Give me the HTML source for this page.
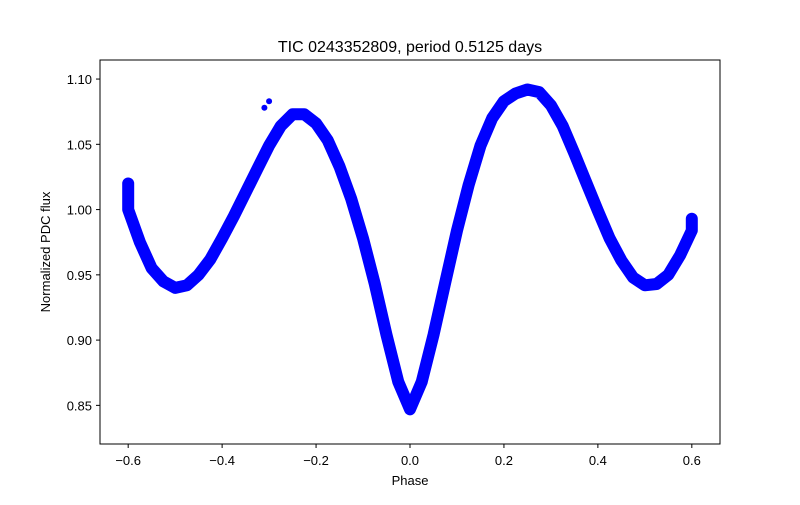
<!DOCTYPE html>
<html><head><meta charset="utf-8"><style>
body{margin:0;background:#fff;font-family:"Liberation Sans","DejaVu Sans",sans-serif}
</style></head><body>
<svg width="800" height="500" viewBox="0 0 800 500" xmlns="http://www.w3.org/2000/svg">
<rect width="800" height="500" fill="#fff"/>
<text x="410" y="52" font-size="16" text-anchor="middle">TIC 0243352809, period 0.5125 days</text>
<g id="plot"></g>
<rect x="100" y="60" width="620" height="384" fill="none" stroke="#000" stroke-width="1"/>
<g id="xt"></g>
<g id="yt"></g>
<text x="410" y="485" font-size="13" text-anchor="middle">Phase</text>
<text x="0" y="0" font-size="13" text-anchor="middle" transform="translate(50,252) rotate(-90)">Normalized PDC flux</text>
</svg>
<script>
const phases=[-0.6,-0.6,-0.575,-0.55,-0.525,-0.5,-0.475,-0.45,-0.425,-0.4,-0.375,-0.35,-0.325,-0.3,-0.275,-0.25,-0.225,-0.2,-0.175,-0.15,-0.125,-0.1,-0.075,-0.05,-0.025,0,0.025,0.05,0.075,0.1,0.125,0.15,0.175,0.2,0.225,0.25,0.275,0.3,0.325,0.35,0.375,0.4,0.425,0.45,0.475,0.5,0.525,0.55,0.575,0.6,0.6];
const flux=[1.020,1.000,0.975,0.955,0.945,0.940,0.942,0.950,0.962,0.978,0.995,1.013,1.031,1.049,1.064,1.073,1.073,1.066,1.053,1.033,1.008,0.978,0.943,0.904,0.868,0.847,0.868,0.904,0.944,0.984,1.019,1.049,1.070,1.083,1.089,1.092,1.090,1.080,1.064,1.043,1.021,0.999,0.978,0.961,0.948,0.942,0.943,0.950,0.965,0.984,0.993];
const outPh=[-0.31,-0.3];
const outFx=[1.078,1.083];
const xTicks=[-0.6,-0.4,-0.2,0.0,0.2,0.4,0.6];
const xLabels=["−0.6","−0.4","−0.2","0.0","0.2","0.4","0.6"];
const yTicks=[0.85,0.90,0.95,1.00,1.05,1.10];
const yLabels=["0.85","0.90","0.95","1.00","1.05","1.10"];
const NS="http://www.w3.org/2000/svg";
const X=v=>100+(v+0.66)/1.32*620;
const Y=v=>444-(v-0.8204)/(1.1146-0.8204)*384;
const plot=document.getElementById('plot');
let d=phases.map((p,i)=>(i?'L':'M')+X(p).toFixed(1)+','+Y(flux[i]).toFixed(1)).join(' ');
const band=document.createElementNS(NS,'path');
band.setAttribute('d',d);band.setAttribute('fill','none');band.setAttribute('stroke','#0000ff');
band.setAttribute('stroke-width','12');band.setAttribute('stroke-linejoin','round');band.setAttribute('stroke-linecap','round');


plot.appendChild(band);
outPh.forEach((p,i)=>{const c=document.createElementNS(NS,'circle');
c.setAttribute('cx',X(p));c.setAttribute('cy',Y(outFx[i]));c.setAttribute('r','3');c.setAttribute('fill','#0000ff');


plot.appendChild(c);});
const xt=document.getElementById('xt');
xTicks.forEach((t,i)=>{const x=X(t);
const l=document.createElementNS(NS,'line');l.setAttribute('x1',x);l.setAttribute('x2',x);l.setAttribute('y1',444);l.setAttribute('y2',448);l.setAttribute('stroke','#000');


xt.appendChild(l);
const tx=document.createElementNS(NS,'text');tx.setAttribute('x',x);tx.setAttribute('y',465);tx.setAttribute('font-size','13');tx.setAttribute('text-anchor','middle');tx.textContent=xLabels[i];


xt.appendChild(tx);});
const yt=document.getElementById('yt');
yTicks.forEach((t,i)=>{const y=Y(t);
const l=document.createElementNS(NS,'line');l.setAttribute('x1',96);l.setAttribute('x2',100);l.setAttribute('y1',y);l.setAttribute('y2',y);l.setAttribute('stroke','#000');


yt.appendChild(l);
const tx=document.createElementNS(NS,'text');tx.setAttribute('x',92);tx.setAttribute('y',y+5);tx.setAttribute('font-size','13');tx.setAttribute('text-anchor','end');tx.textContent=yLabels[i];


yt.appendChild(tx);});
</script>
</body></html>
